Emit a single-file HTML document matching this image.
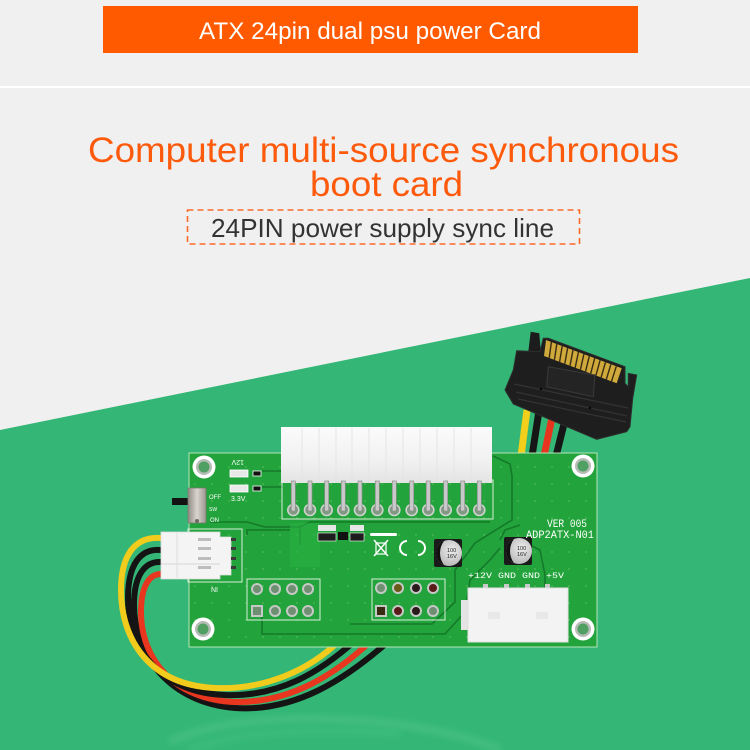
<!DOCTYPE html>
<html>
<head>
<meta charset="utf-8">
<style>
  html,body{margin:0;padding:0;background:#f0f0f0;}
  svg{display:block;}
</style>
</head>
<body>
<svg width="750" height="750" viewBox="0 0 750 750" xmlns="http://www.w3.org/2000/svg">
  <defs>
    <linearGradient id="conn" x1="0" y1="0" x2="0" y2="1">
      <stop offset="0" stop-color="#fbfbfb"/>
      <stop offset="0.6" stop-color="#f1f1f1"/>
      <stop offset="1" stop-color="#e2e4e2"/>
    </linearGradient>
    <linearGradient id="sw" x1="0" y1="0" x2="1" y2="0">
      <stop offset="0" stop-color="#8f8a82"/>
      <stop offset="0.5" stop-color="#d9d5cf"/>
      <stop offset="1" stop-color="#9c978f"/>
    </linearGradient>
    <radialGradient id="cap" cx="0.6" cy="0.4" r="0.6">
      <stop offset="0" stop-color="#eeeeee"/>
      <stop offset="1" stop-color="#b9b9b9"/>
    </radialGradient>
    <pattern id="dots" x="0" y="0" width="17" height="17" patternUnits="userSpaceOnUse">
      <circle cx="8" cy="8" r="0.9" fill="#6fc86f"/>
    </pattern>
    <filter id="blur" x="-20%" y="-20%" width="140%" height="140%">
      <feGaussianBlur stdDeviation="3"/>
    </filter>
  </defs>

  <!-- background -->
  <rect x="0" y="0" width="750" height="750" fill="#f0f0f0"/>
  <rect x="0" y="86" width="750" height="2" fill="#ffffff"/>

  <!-- banner -->
  <rect x="103" y="6" width="535" height="47" fill="#ff5a00"/>
  <text x="199" y="39" font-family="Liberation Sans, sans-serif" font-size="24" fill="#ffffff" textLength="342" lengthAdjust="spacingAndGlyphs">ATX 24pin dual psu power Card</text>

  <!-- titles -->
  <text x="88" y="162" font-family="Liberation Sans, sans-serif" font-size="35" fill="#fd5a0b" textLength="591" lengthAdjust="spacingAndGlyphs">Computer multi-source synchronous</text>
  <text x="310" y="196" font-family="Liberation Sans, sans-serif" font-size="35" fill="#fd5a0b" textLength="153" lengthAdjust="spacingAndGlyphs">boot card</text>

  <rect x="187.5" y="210" width="392" height="34" fill="none" stroke="#fd6a2a" stroke-width="1.6" stroke-dasharray="6,4"/>
  <text x="211" y="237" font-family="Liberation Sans, sans-serif" font-size="26" fill="#333333" textLength="343" lengthAdjust="spacingAndGlyphs">24PIN power supply sync line</text>

  <!-- green background -->
  <path d="M0,430 L750,278 L750,750 L0,750 Z" fill="#34b776"/>

  <!-- reflection -->
  <g opacity="0.25" filter="url(#blur)">
    <path d="M170,742 C220,718 300,715 380,722 C430,728 470,737 500,750" stroke="#6fd09a" stroke-width="8" fill="none"/>
    <path d="M190,750 C240,730 320,728 400,734" stroke="#5cc98d" stroke-width="6" fill="none"/>
  </g>

  <!-- SATA wires -->
  <path d="M527,410 L521,456" stroke="#f2cf1a" stroke-width="7"/>
  <path d="M539,411 L532,456" stroke="#161616" stroke-width="7"/>
  <path d="M553,413 L544,456" stroke="#e8351f" stroke-width="7"/>
  <path d="M566,416 L556,456" stroke="#161616" stroke-width="7"/>

  <!-- SATA connector -->
  <polygon points="530.7,331.7 539.3,333.3 540.7,351.7 528.3,351.7" fill="#1c1c1c"/>
  <polygon points="516.7,350.7 540,351.7 543.3,338.3 548.3,338.3 625,366.7 625,383.3 628.3,386.7 628.3,373.3 636.7,375 632.7,398.3 630,426.7 626.7,431.7 596.7,439.3 513.3,404 505,390 513.3,370" fill="#1e1e1e" stroke="#2e2e2e" stroke-width="1"/>
  <polygon points="546,340 621.7,368.3 616.7,383.3 544,356" fill="#cfa93c"/>
  <g stroke="#3a2c12" stroke-width="1.4">
    <line x1="551.4" y1="342" x2="549.2" y2="358"/>
    <line x1="556.8" y1="344" x2="554.4" y2="359.9"/>
    <line x1="562.2" y1="346.1" x2="559.6" y2="361.9"/>
    <line x1="567.6" y1="348.1" x2="564.8" y2="363.8"/>
    <line x1="573" y1="350.1" x2="570" y2="365.8"/>
    <line x1="578.4" y1="352.1" x2="575.2" y2="367.7"/>
    <line x1="583.9" y1="354.2" x2="580.4" y2="369.7"/>
    <line x1="589.3" y1="356.2" x2="585.5" y2="371.6"/>
    <line x1="594.7" y1="358.2" x2="590.7" y2="373.6"/>
    <line x1="600.1" y1="360.2" x2="595.9" y2="375.5"/>
    <line x1="605.5" y1="362.2" x2="601.1" y2="377.5"/>
    <line x1="610.9" y1="364.3" x2="606.3" y2="379.4"/>
    <line x1="616.3" y1="366.3" x2="611.5" y2="381.4"/>
  </g>
  <polygon points="548.3,366.7 595,375 593.3,396.7 546.7,386.7" fill="#242424" stroke="#3a3a3a" stroke-width="1"/>
  <path d="M514,384 L628,408 M516,392 L627,416 M518,399 L626,422" stroke="#333333" stroke-width="1.2" fill="none"/>
  <circle cx="541" cy="389" r="1.2" fill="#050505"/>
  <circle cx="590" cy="408" r="1.2" fill="#050505"/>

  <!-- fan wires (behind board) -->
  <path d="M161,562 C145,561 134,575 134,605 C134,655 170,703 235,708 C295,712 345,680 390,640" stroke="#141414" stroke-width="6" fill="none"/>
  <path d="M161,574 C150,574 141,585 141,612 C141,660 175,700 235,702 C290,703 335,675 372,640" stroke="#e8361f" stroke-width="6" fill="none"/>
  <path d="M161,550 C140,548 128,565 128,598 C128,648 160,693 225,695 C280,697 320,672 356,640" stroke="#141414" stroke-width="6" fill="none"/>
  <path d="M161,538 C135,536 121,555 121,590 C121,640 150,685 215,688 C265,690 310,670 340,640" stroke="#f2cc1c" stroke-width="6" fill="none"/>

  <!-- switch lever -->
  <rect x="172" y="498" width="18" height="7" fill="#121212"/>

  <!-- PCB -->
  <rect x="189" y="453" width="408" height="194" fill="#22a33b" stroke="#b6e3b8" stroke-width="1"/>
  <rect x="189" y="453" width="408" height="194" fill="url(#dots)" opacity="0.6"/>

  <!-- traces -->
  <g stroke="#147a2a" stroke-width="1.6" fill="none">
    <path d="M262,471 L283,471 M262,487 L283,487"/>
    <path d="M210,522 L247,522 L265,527 L300,527 L310,522 L490,522"/>
    <path d="M247,535 L247,530 L290,530"/>
    <path d="M493,456 L510,464 L512,476 L512,520 L475,543 L455,570 L455,602 L432,624 L350,624"/>
    <path d="M262,612 L262,634 L445,634 L465,612 L470,580 L490,560 L500,548"/>
    <path d="M520,540 L540,550 L545,575 L545,590"/>
    <path d="M500,540 L505,530 L520,525"/>
    <path d="M300,545 L300,525"/>
  </g>
  <rect x="290" y="523" width="30" height="44" fill="#2ab043" opacity="0.6"/>

  <!-- mounting holes -->
  <g>
    <circle cx="204" cy="467" r="11.5" fill="#ffffff"/>
    <circle cx="204" cy="467" r="8" fill="#b7bcb7"/>
    <circle cx="204" cy="467" r="5.5" fill="#4fa062"/>
    <circle cx="583" cy="466" r="11.5" fill="#ffffff"/>
    <circle cx="583" cy="466" r="8" fill="#b7bcb7"/>
    <circle cx="583" cy="466" r="5.5" fill="#4fa062"/>
    <circle cx="203" cy="629" r="11.5" fill="#ffffff"/>
    <circle cx="203" cy="629" r="8" fill="#b7bcb7"/>
    <circle cx="203" cy="629" r="5.5" fill="#4fa062"/>
    <circle cx="583" cy="629" r="11.5" fill="#ffffff"/>
    <circle cx="583" cy="629" r="8" fill="#b7bcb7"/>
    <circle cx="583" cy="629" r="5.5" fill="#4fa062"/>
  </g>

  <!-- LEDs area -->
  <text x="232" y="466" font-family="Liberation Sans, sans-serif" font-size="7" fill="#ffffff" transform="rotate(180 238 463)">12V</text>
  <rect x="230" y="470" width="18" height="7" fill="#e8e8e8" stroke="#ffffff" stroke-width="0.8"/>
  <rect x="253" y="471" width="8" height="5" fill="#111111" stroke="#ffffff" stroke-width="0.8"/>
  <rect x="230" y="485" width="18" height="7" fill="#e8e8e8" stroke="#ffffff" stroke-width="0.8"/>
  <rect x="253" y="486" width="8" height="5" fill="#111111" stroke="#ffffff" stroke-width="0.8"/>
  <text x="231" y="501" font-family="Liberation Sans, sans-serif" font-size="7" fill="#ffffff">3.3V</text>
  <text x="209" y="499" font-family="Liberation Sans, sans-serif" font-size="6" fill="#ffffff">OFF</text>
  <text x="209" y="511" font-family="Liberation Sans, sans-serif" font-size="5" fill="#ffffff">SW</text>
  <text x="210" y="522" font-family="Liberation Sans, sans-serif" font-size="6" fill="#ffffff">ON</text>

  <!-- switch -->
  <rect x="188" y="488" width="18" height="35" rx="1.5" fill="url(#sw)" stroke="#7d7870" stroke-width="0.8"/>
  <circle cx="197" cy="521" r="2" fill="#6d6a66"/>

  <!-- 24-pin connector -->
  <rect x="282" y="480" width="211" height="39" fill="none" stroke="#d8efd8" stroke-width="1"/>
  <rect x="281" y="427" width="211" height="56" fill="url(#conn)"/>
  <g stroke="#e3e5e3" stroke-width="1">
    <line x1="302" y1="428" x2="302" y2="482"/>
    <line x1="319" y1="428" x2="319" y2="482"/>
    <line x1="336" y1="428" x2="336" y2="482"/>
    <line x1="352" y1="428" x2="352" y2="482"/>
    <line x1="369" y1="428" x2="369" y2="482"/>
    <line x1="386" y1="428" x2="386" y2="482"/>
    <line x1="403" y1="428" x2="403" y2="482"/>
    <line x1="420" y1="428" x2="420" y2="482"/>
    <line x1="437" y1="428" x2="437" y2="482"/>
    <line x1="454" y1="428" x2="454" y2="482"/>
    <line x1="471" y1="428" x2="471" y2="482"/>
  </g>
  <g fill="#7f9a80" stroke="#cfd3cf" stroke-width="1.6">
    <circle cx="293.3" cy="510" r="5.5"/><circle cx="310" cy="510" r="5.5"/><circle cx="326.7" cy="510" r="5.5"/>
    <circle cx="343.3" cy="510" r="5.5"/><circle cx="360" cy="510" r="5.5"/><circle cx="377.3" cy="510" r="5.5"/>
    <circle cx="394.3" cy="510" r="5.5"/><circle cx="411.7" cy="510" r="5.5"/><circle cx="428.3" cy="510" r="5.5"/>
    <circle cx="445.7" cy="510" r="5.5"/><circle cx="462.7" cy="510" r="5.5"/><circle cx="479.3" cy="510" r="5.5"/>
  </g>
  <g fill="#c9c9c9" stroke="#8e8e8e" stroke-width="0.7">
    <rect x="291.3" y="481" width="4" height="30"/><rect x="308" y="481" width="4" height="30"/><rect x="324.7" y="481" width="4" height="30"/>
    <rect x="341.3" y="481" width="4" height="30"/><rect x="358" y="481" width="4" height="30"/><rect x="375.3" y="481" width="4" height="30"/>
    <rect x="392.3" y="481" width="4" height="30"/><rect x="409.7" y="481" width="4" height="30"/><rect x="426.3" y="481" width="4" height="30"/>
    <rect x="443.7" y="481" width="4" height="30"/><rect x="460.7" y="481" width="4" height="30"/><rect x="477.3" y="481" width="4" height="30"/>
  </g>

  <!-- small SMD parts -->
  <g>
    <rect x="318" y="525" width="18" height="6" fill="#e6e6e6"/>
    <rect x="318" y="533" width="18" height="8" fill="#1d1d1d" stroke="#ffffff" stroke-width="0.6"/>
    <rect x="338" y="532" width="10" height="8" fill="#111111"/>
    <rect x="350" y="525" width="14" height="6" fill="#e6e6e6"/>
    <rect x="350" y="533" width="14" height="8" fill="#1d1d1d" stroke="#ffffff" stroke-width="0.6"/>
  </g>

  <!-- CE / WEEE marks -->
  <rect x="370" y="533" width="27" height="3" rx="1.5" fill="#ffffff"/>
  <path d="M374,540 L388,556 M388,540 L374,556" stroke="#ffffff" stroke-width="1.5"/>
  <rect x="376" y="543" width="10" height="11" fill="none" stroke="#ffffff" stroke-width="1.2"/>
  <path d="M407,541 A7,7 0 1 0 407,555" stroke="#ffffff" stroke-width="2" fill="none"/>
  <path d="M418,541 A7,7 0 0 1 418,555" stroke="#ffffff" stroke-width="2" fill="none"/>

  <!-- capacitors -->
  <g>
    <rect x="434" y="539" width="28" height="28" rx="2" fill="#1a1a1a"/>
    <circle cx="449" cy="553" r="13" fill="url(#cap)"/>
    <path d="M444,541 A13,13 0 0 0 444,565 A20,20 0 0 1 444,541 Z" fill="#111111"/>
    <text x="447" y="552" font-family="Liberation Sans, sans-serif" font-size="5.5" fill="#222222">100</text>
    <text x="447" y="558" font-family="Liberation Sans, sans-serif" font-size="5.5" fill="#222222">16V</text>
    <rect x="504" y="537" width="28" height="28" rx="2" fill="#1a1a1a"/>
    <circle cx="519" cy="551" r="13" fill="url(#cap)"/>
    <path d="M514,539 A13,13 0 0 0 514,563 A20,20 0 0 1 514,539 Z" fill="#111111"/>
    <text x="517" y="550" font-family="Liberation Sans, sans-serif" font-size="5.5" fill="#222222">100</text>
    <text x="517" y="556" font-family="Liberation Sans, sans-serif" font-size="5.5" fill="#222222">16V</text>
  </g>

  <!-- silkscreen right -->
  <text x="547" y="527" font-family="Liberation Mono, monospace" font-size="11" fill="#ffffff" textLength="40" lengthAdjust="spacingAndGlyphs">VER 005</text>
  <text x="526" y="538" font-family="Liberation Mono, monospace" font-size="11" fill="#ffffff" textLength="68" lengthAdjust="spacingAndGlyphs">ADP2ATX-N01</text>
  <text x="468" y="578" font-family="Liberation Mono, monospace" font-size="8" fill="#ffffff" textLength="96" lengthAdjust="spacingAndGlyphs">+12V GND GND +5V</text>

  <!-- header blocks -->
  <rect x="247" y="579" width="73" height="41" fill="none" stroke="#d8efd8" stroke-width="1"/>
  <rect x="372" y="579" width="73" height="41" fill="none" stroke="#d8efd8" stroke-width="1"/>
  <g fill="#6f8f72" stroke="#c5c9c5" stroke-width="2">
    <circle cx="257" cy="589" r="5"/><circle cx="275" cy="589" r="5"/><circle cx="292" cy="589" r="5"/><circle cx="308" cy="589" r="5"/>
    <rect x="252" y="606" width="10" height="10"/><circle cx="275" cy="611" r="5"/><circle cx="292" cy="611" r="5"/><circle cx="308" cy="611" r="5"/>
    <circle cx="381" cy="588" r="5"/>
  </g>
  <g stroke="#c5c9c5" stroke-width="2">
    <circle cx="398" cy="588" r="5" fill="#6a5a1a"/>
    <circle cx="416" cy="588" r="5" fill="#2a1a1a"/>
    <circle cx="433" cy="588" r="5" fill="#5a1a1a"/>
    <rect x="376" y="606" width="10" height="10" fill="#3a2a10"/>
    <circle cx="398" cy="611" r="5" fill="#5a1a1a"/>
    <circle cx="416" cy="611" r="5" fill="#2a1a1a"/>
    <circle cx="433" cy="611" r="5" fill="#6f8f72"/>
  </g>

  <!-- molex connector -->
  <g fill="#c9c9c9">
    <rect x="483" y="584" width="5" height="6"/><rect x="504" y="584" width="5" height="6"/>
    <rect x="525" y="584" width="5" height="6"/><rect x="545" y="584" width="5" height="6"/>
  </g>
  <rect x="461" y="600" width="8" height="30" fill="#e4e4e4"/>
  <rect x="468" y="588" width="100" height="54" fill="#f3f3f3" stroke="#e0e0e0" stroke-width="1"/>
  <rect x="488" y="612" width="12" height="7" fill="#e8e8e8"/>
  <rect x="536" y="612" width="12" height="7" fill="#e8e8e8"/>

  <!-- fan connector -->
  <rect x="188" y="529" width="54" height="53" fill="none" stroke="#d8efd8" stroke-width="1"/>
  <path d="M161,532 L220,532 L220,537 L231,537 L231,575 L220,575 L220,579 L161,579 Z" fill="#f4f4f4" stroke="#dcdcdc" stroke-width="0.8"/>
  <line x1="177" y1="533" x2="177" y2="578" stroke="#dedede" stroke-width="1"/>
  <line x1="161" y1="564" x2="220" y2="564" stroke="#d6d6d6" stroke-width="1"/>
  <g fill="#bdbdbd">
    <rect x="198" y="538" width="13" height="3"/><rect x="198" y="547" width="13" height="3"/>
    <rect x="198" y="557" width="13" height="3"/><rect x="198" y="566" width="13" height="3"/>
  </g>
  <g fill="#3a3a3a">
    <rect x="231" y="538" width="5" height="3"/><rect x="231" y="547" width="5" height="3"/>
    <rect x="231" y="557" width="5" height="3"/><rect x="231" y="566" width="5" height="3"/>
  </g>
  <text x="211" y="592" font-family="Liberation Sans, sans-serif" font-size="7" fill="#ffffff">NI</text>
</svg>
</body>
</html>
